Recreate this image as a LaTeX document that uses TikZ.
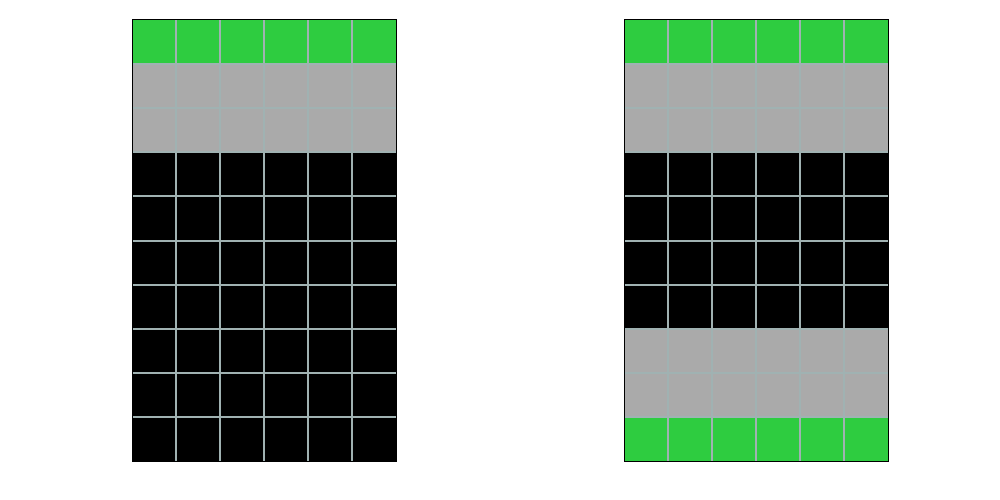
\documentclass[tikz,border=0pt]{standalone}
\definecolor{cgreen}{RGB}{46,204,64}
\definecolor{cgray}{RGB}{170,170,170}
\definecolor{cline}{RGB}{160,178,178}
\begin{document}
\begin{tikzpicture}[x=1pt,y=-1pt,
  gridln/.style={draw=cline,line width=2pt},
  frame/.style={draw=black,line width=1pt}]
\useasboundingbox (0,0) rectangle (1000,500);
\foreach \x/\rows in {132/{cgreen,cgray,cgray,black,black,black,black,black,black,black},624/{cgreen,cgray,cgray,black,black,black,black,cgray,cgray,cgreen}}{
  \foreach \c [count=\i from 0] in \rows {
    \fill[fill=\c] (\x,20+44.1*\i) rectangle (\x+264,20+44.1*\i+44.1);
  }
  \foreach \j in {1,...,5}{
    \draw[gridln] (\x+44*\j,20) -- (\x+44*\j,461);
  }
  \foreach \i in {1,...,9}{
    \draw[gridln] (\x,20+44.1*\i) -- (\x+264,20+44.1*\i);
  }
  \draw[frame] (\x,20) rectangle (\x+264,461);
}
\end{tikzpicture}
\end{document}
